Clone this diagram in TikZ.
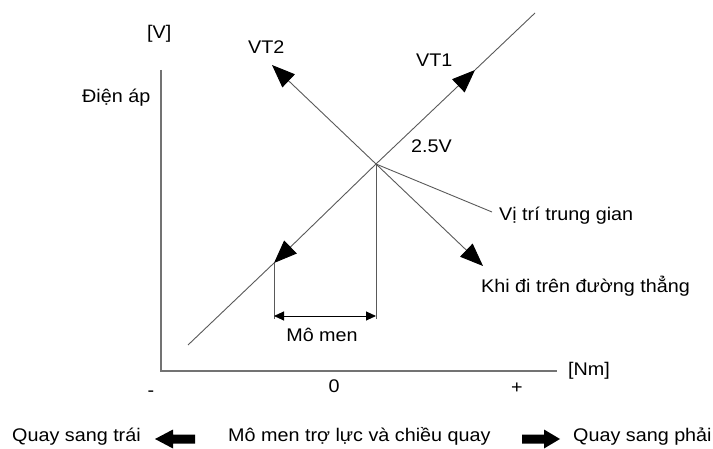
\documentclass[tikz,border=0pt]{standalone}
\usepackage{fontspec}
\setmainfont{Liberation Sans}[FakeStretch=1.08]
\usetikzlibrary{arrows.meta}
\tikzset{
  lbl/.style={inner sep=0pt, font=\fontsize{18.3}{21}\selectfont, text=black},
  axisline/.style={draw=black!55, line width=1.6pt},
  thin/.style={draw=black!65, line width=0.9pt},
  bigarrow/.style={thin, -{Triangle[length=23pt,width=18pt,color=black]}},
  dimarrow/.style={draw=black, line width=0.9pt, {Triangle[length=10pt,width=9pt,color=black]}-{Triangle[length=10pt,width=9pt,color=black]}},
  block/.style={fill=black, draw=none}
}
\begin{document}
\begin{tikzpicture}[x=1pt,y=-1pt]
\useasboundingbox (0,0) rectangle (713,449);
% key points
\coordinate (top) at (161,70);
\coordinate (org) at (161,371);
\coordinate (xend) at (557,371);
\coordinate (C) at (376,164);
\coordinate (lo) at (188,345);
\coordinate (hi) at (535,13);
\coordinate (t1) at (475,70);
\coordinate (t2) at (272,65);
\coordinate (tm) at (274,263);
\coordinate (tk) at (483,266);
\coordinate (tv) at (492,212);
\coordinate (dl) at (274,316);
\coordinate (dr) at (376,316);
\coordinate (vl) at (274,319);
\coordinate (vr) at (376,319);
% axes
\draw[axisline] (top) -- (org) -- (xend);
% lines
\draw[thin] (lo) -- (tm);
\draw[thin] (t1) -- (hi);
\draw[bigarrow] (C) -- (t1);
\draw[bigarrow] (C) -- (t2);
\draw[bigarrow] (C) -- (tm);
\draw[bigarrow] (C) -- (tk);
\draw[thin] (C) -- (tv);
\draw[thin] (tm) -- (vl);
\draw[thin] (C) -- (vr);
\draw[dimarrow] (dl) -- (dr);
% labels
\node[lbl, anchor=base west] (lV) at (147,39) {[V]};
\node[lbl, anchor=base west] (lvt2) at (248,54) {VT2};
\node[lbl, anchor=base west] (lvt1) at (416,67) {VT1};
\node[lbl, anchor=base west] (ldien) at (82,103) {Điện áp};
\node[lbl, anchor=base west] (l25) at (411,153) {2.5V};
\node[lbl, anchor=base west] (lvitri) at (499,221) {Vị trí trung gian};
\node[lbl, anchor=base west] (lkhi) at (481,293) {Khi đi trên đường thẳng};
\node[lbl, anchor=base] (lmomen) at (322,342) {Mô men};
\node[lbl, anchor=base west] (lNm) at (568,375) {[Nm]};
\node[lbl, anchor=base] (l0) at (334,392) {0};
\node[lbl, anchor=base] (lplus) at (517,394) {+};
\node[lbl, anchor=base] (lminus) at (151,396) {-};
\node[lbl, anchor=base west] (lleft) at (12,442) {Quay sang trái};
\node[lbl, anchor=base west] (lmid) at (228,442) {Mô men trợ lực và chiều quay};
\node[lbl, anchor=base west] (lright) at (573,442) {Quay sang phải};
% block arrows
\fill[block] (155,439) -- (173,429.5) -- (173,434.5) -- (195,434.5) -- (195,443.5) -- (173,443.5) -- (173,448.5) -- cycle;
\fill[block] (560,439) -- (544,429.5) -- (544,434.5) -- (522,434.5) -- (522,443.5) -- (544,443.5) -- (544,448.5) -- cycle;
\end{tikzpicture}
\end{document}
